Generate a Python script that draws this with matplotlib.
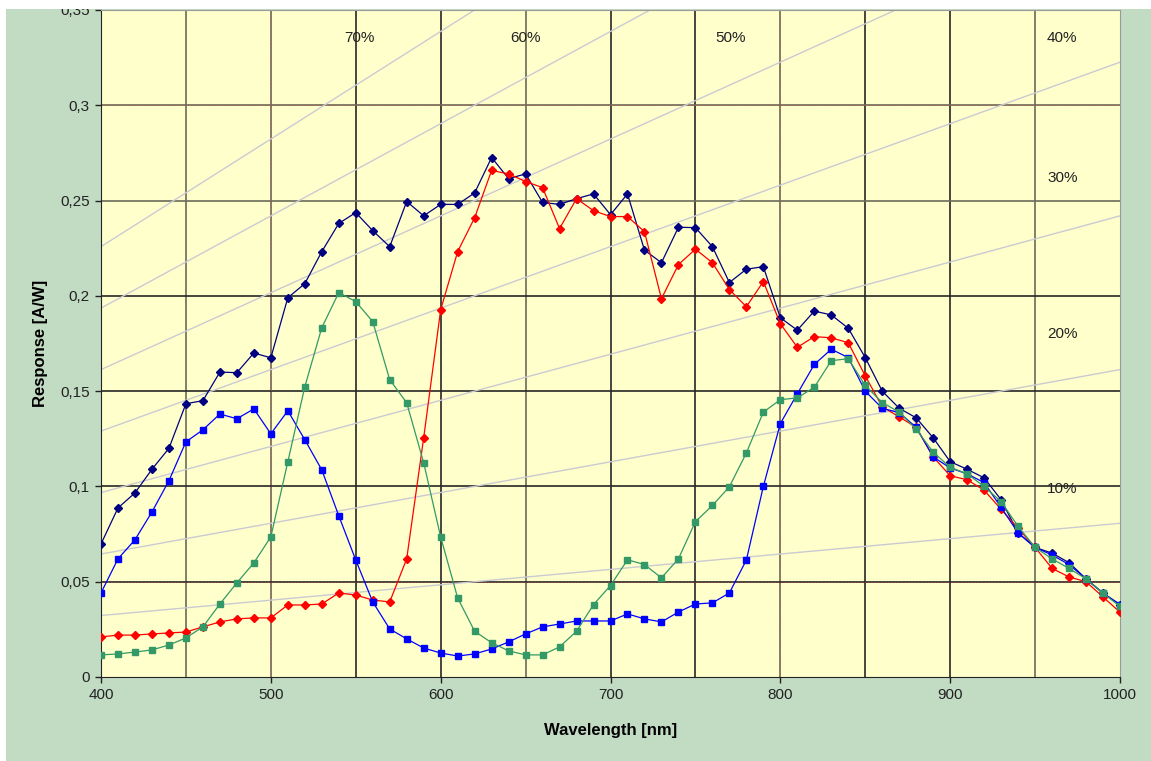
import matplotlib
matplotlib.use("Agg")
import matplotlib.pyplot as plt
from matplotlib.patches import Rectangle
from matplotlib.ticker import MultipleLocator, FuncFormatter
import numpy as np

plt.rcParams['font.family'] = ['Liberation Sans', 'DejaVu Sans']

# wavelength grid (nm)
wavelength = list(range(400, 1001, 10))

# spectral response in A/W
mono = [0.0698, 0.0887, 0.0966, 0.109, 0.120, 0.1434, 0.145, 0.160, 0.1597, 0.170,
        0.1675, 0.199, 0.2064, 0.2232, 0.238, 0.2437, 0.2342, 0.2258, 0.2495, 0.242,
        0.248, 0.248, 0.254, 0.2726, 0.2615, 0.264, 0.249, 0.248, 0.251, 0.2535,
        0.2426, 0.2535, 0.224, 0.2174, 0.236, 0.2358, 0.2258, 0.207, 0.214, 0.2153,
        0.1885, 0.182, 0.192, 0.190, 0.183, 0.1676, 0.150, 0.141, 0.136, 0.1255,
        0.113, 0.109, 0.1045, 0.093, 0.0756, 0.068, 0.065, 0.060, 0.0515, 0.044,
        0.038]
red = [0.021, 0.022, 0.022, 0.0226, 0.0231, 0.0236, 0.0263, 0.0289, 0.0305, 0.031,
       0.031, 0.0378, 0.0378, 0.0383, 0.0441, 0.043, 0.0404, 0.0394, 0.062, 0.1255,
       0.1927, 0.2232, 0.241, 0.2658, 0.264, 0.260, 0.2568, 0.2353, 0.251, 0.2447,
       0.2416, 0.2416, 0.2337, 0.1985, 0.2164, 0.2245, 0.2174, 0.2033, 0.1943, 0.2075,
       0.1854, 0.173, 0.1786, 0.178, 0.1754, 0.158, 0.1418, 0.1365, 0.131, 0.1155,
       0.1056, 0.1035, 0.098, 0.088, 0.078, 0.068, 0.057, 0.0525, 0.050, 0.042,
       0.034]
blue = [0.0441, 0.062, 0.072, 0.0866, 0.103, 0.1234, 0.1297, 0.138, 0.1355, 0.1407,
        0.1276, 0.1397, 0.1245, 0.1087, 0.0846, 0.0614, 0.0394, 0.0252, 0.020, 0.0152,
        0.0126, 0.011, 0.0121, 0.0147, 0.0184, 0.0226, 0.0263, 0.0278, 0.0294, 0.0294,
        0.0294, 0.0331, 0.0305, 0.0289, 0.0341, 0.0383, 0.0389, 0.0441, 0.0614, 0.1,
        0.133, 0.1486, 0.164, 0.172, 0.1676, 0.150, 0.141, 0.1387, 0.131, 0.1155,
        0.1097, 0.1066, 0.102, 0.089, 0.0756, 0.068, 0.064, 0.059, 0.0515, 0.044,
        0.038]
green = [0.0116, 0.0121, 0.0131, 0.0142, 0.0168, 0.0205, 0.0263, 0.0383, 0.0494, 0.0599,
         0.0735, 0.1129, 0.1523, 0.1833, 0.2017, 0.197, 0.1865, 0.156, 0.1439, 0.1124,
         0.0735, 0.0415, 0.024, 0.018, 0.0137, 0.0116, 0.0116, 0.0158, 0.024, 0.038,
         0.048, 0.0615, 0.059, 0.052, 0.062, 0.0815, 0.090, 0.0998, 0.1176, 0.139,
         0.1455, 0.1465, 0.152, 0.166, 0.167, 0.153, 0.144, 0.139, 0.130, 0.118,
         0.110, 0.1066, 0.100, 0.092, 0.079, 0.068, 0.062, 0.057, 0.0515, 0.044,
         0.037]

# quantum efficiency reference lines
qe_levels = [10, 20, 30, 40, 50, 60, 70]
qe_labels = ['10%', '20%', '30%', '40%', '50%', '60%', '70%']
qe_label_x = [966, 966, 966, 966, 771, 650, 552]
qe_label_y = [0.0985, 0.180, 0.2617, 0.3355, 0.3355, 0.3355, 0.3355]

fig = plt.figure(figsize=(11.51, 7.61), dpi=100)
fig.patch.set_facecolor('#C2DBC3')
ax = fig.add_axes([101 / 1151, 1 - 677 / 761, 1019 / 1151, 667 / 761])
ax.set_facecolor('#FFFFCC')

ax.set_xlim(400, 1000)
ax.set_ylim(0, 0.35)
ax.xaxis.set_major_locator(MultipleLocator(100))
ax.xaxis.set_minor_locator(MultipleLocator(50))
ax.yaxis.set_major_locator(MultipleLocator(0.05))
ax.yaxis.set_major_formatter(FuncFormatter(lambda v, p: ('%g' % round(v, 2)).replace('.', ',')))

# grid every 50 nm and every 0.05 A/W, some lines a bit lighter with red dots
dark, olive = '#262626', '#6b6b58'
for gx in range(450, 1000, 50):
    c = olive if gx in (450, 500, 650, 800, 950) else dark
    ax.axvline(gx, color=c, lw=1.2, zorder=1)
for gy in [0.05, 0.1, 0.15, 0.2, 0.25, 0.3]:
    c = olive if gy in (0.25, 0.3) else dark
    ax.axhline(gy, color=c, lw=1.2, zorder=1)
for gx in (500, 800):
    ax.axvline(gx, color='#e04040', lw=0.6, ls=(0, (1, 3)), zorder=1.5)
for gy in (0.05, 0.3):
    ax.axhline(gy, color='#e04040', lw=0.6, ls=(0, (1, 3)), zorder=1.5)

# QE lines: R = QE * lambda / 1239.84
lam_ends = np.array([400.0, 1000.0])
for q in qe_levels:
    ax.plot(lam_ends, q / 100 * lam_ends / 1239.84, color='#CACAD2', lw=1.0, zorder=2)
for t, lx, ly in zip(qe_labels, qe_label_x, qe_label_y):
    ax.text(lx, ly, t, fontsize=11, color='#222222', ha='center', va='center', zorder=3)

ax.plot(wavelength, mono, color='#000080', marker='D', ms=4.2, lw=0.9, zorder=4)
ax.plot(wavelength, red, color='#FF0000', marker='D', ms=4.5, lw=0.9, zorder=5)
ax.plot(wavelength, blue, color='#0000FF', marker='s', ms=5, lw=0.9, zorder=6)
ax.plot(wavelength, green, color='#339966', marker='s', ms=5, lw=0.9, zorder=7)

for s in ['top', 'right']:
    ax.spines[s].set_color('#9a9a9a')
for s in ['left', 'bottom']:
    ax.spines[s].set_color('#222222')
ax.tick_params(axis='both', which='major', direction='out', length=4, width=1,
               color='#222222', labelsize=11, labelcolor='#222222', pad=4)
ax.tick_params(axis='x', which='minor', length=0)

ax.set_xlabel('Wavelength [nm]', fontsize=12, fontweight='bold', labelpad=15)
ax.set_ylabel('Response [A/W]', fontsize=12, fontweight='bold', labelpad=9)

# white border at top and left
fig.add_artist(Rectangle((0, 1 - 9 / 761), 1, 9 / 761, transform=fig.transFigure,
                         facecolor='white', edgecolor='none', zorder=20))
fig.add_artist(Rectangle((0, 0), 6 / 1151, 1, transform=fig.transFigure,
                         facecolor='white', edgecolor='none', zorder=20))

plt.savefig('out.png', dpi=100)
